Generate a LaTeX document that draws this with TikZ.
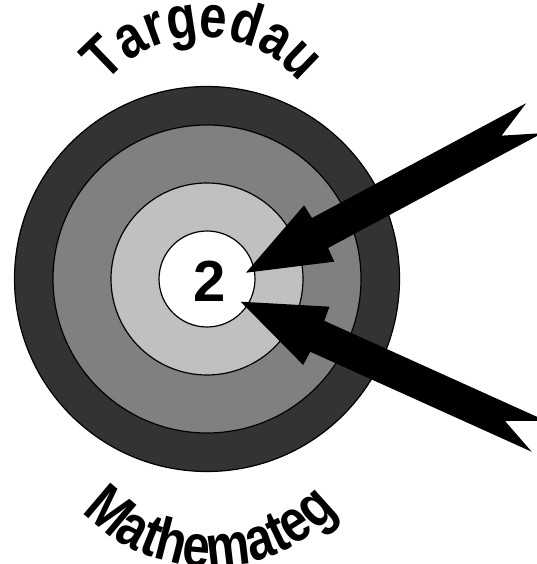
\documentclass[tikz,border=0pt]{standalone}
\usepackage{fontspec}
\setmainfont{Liberation Sans}
\newfontfamily\arcfam[FakeStretch=0.82]{Liberation Sans}
\newcommand{\arcfont}{\arcfam\bfseries\fontsize{60}{66}\selectfont}
\usetikzlibrary{decorations.text}

\begin{document}
\begin{tikzpicture}[x=1pt, y=1pt]
  \definecolor{ringout}{HTML}{333333}
  \definecolor{ringmid}{HTML}{808080}
  \definecolor{ringin}{HTML}{C0C0C0}
  \useasboundingbox (0,0) rectangle (536,564);
  \coordinate (centre) at (207,285);
  \coordinate (topc) at (203,402);
  \coordinate (botc) at (210,172);
  % target rings
  \foreach \r/\c in {192.5/ringout, 154/ringmid, 96/ringin, 48/white} {
    \draw[line width=1.2pt, fill=\c] (centre) circle (\r);
  }
  \node[font=\bfseries\fontsize{58}{60}\selectfont] (score) at (209.3,282.3) {2};
  % darts
  \coordinate (hitA) at (246,291.3);
  \coordinate (hitB) at (240.7,262.3);
  \foreach \h/\a in {hitA/28.2, hitB/-24.3} {
    \fill[shift={(\h)}, rotate=\a] (0,0) -- (83,32) -- (84,17) -- (327,17) -- (290,0)
      -- (327,-17) -- (84,-17) -- (83,-32) -- cycle;
  }
  \path[decorate, decoration={text along path, text={|\arcfont|Targedau}, text align=center}]
    ([shift={(150:125)}]topc) arc[start angle=150, end angle=30, radius=125];
  \path[decorate, decoration={text along path, text={|\arcfont|Mathemateg}, text align=center}]
    ([shift={(210:175)}]botc) arc[start angle=210, end angle=330, radius=175];
\end{tikzpicture}
\end{document}
